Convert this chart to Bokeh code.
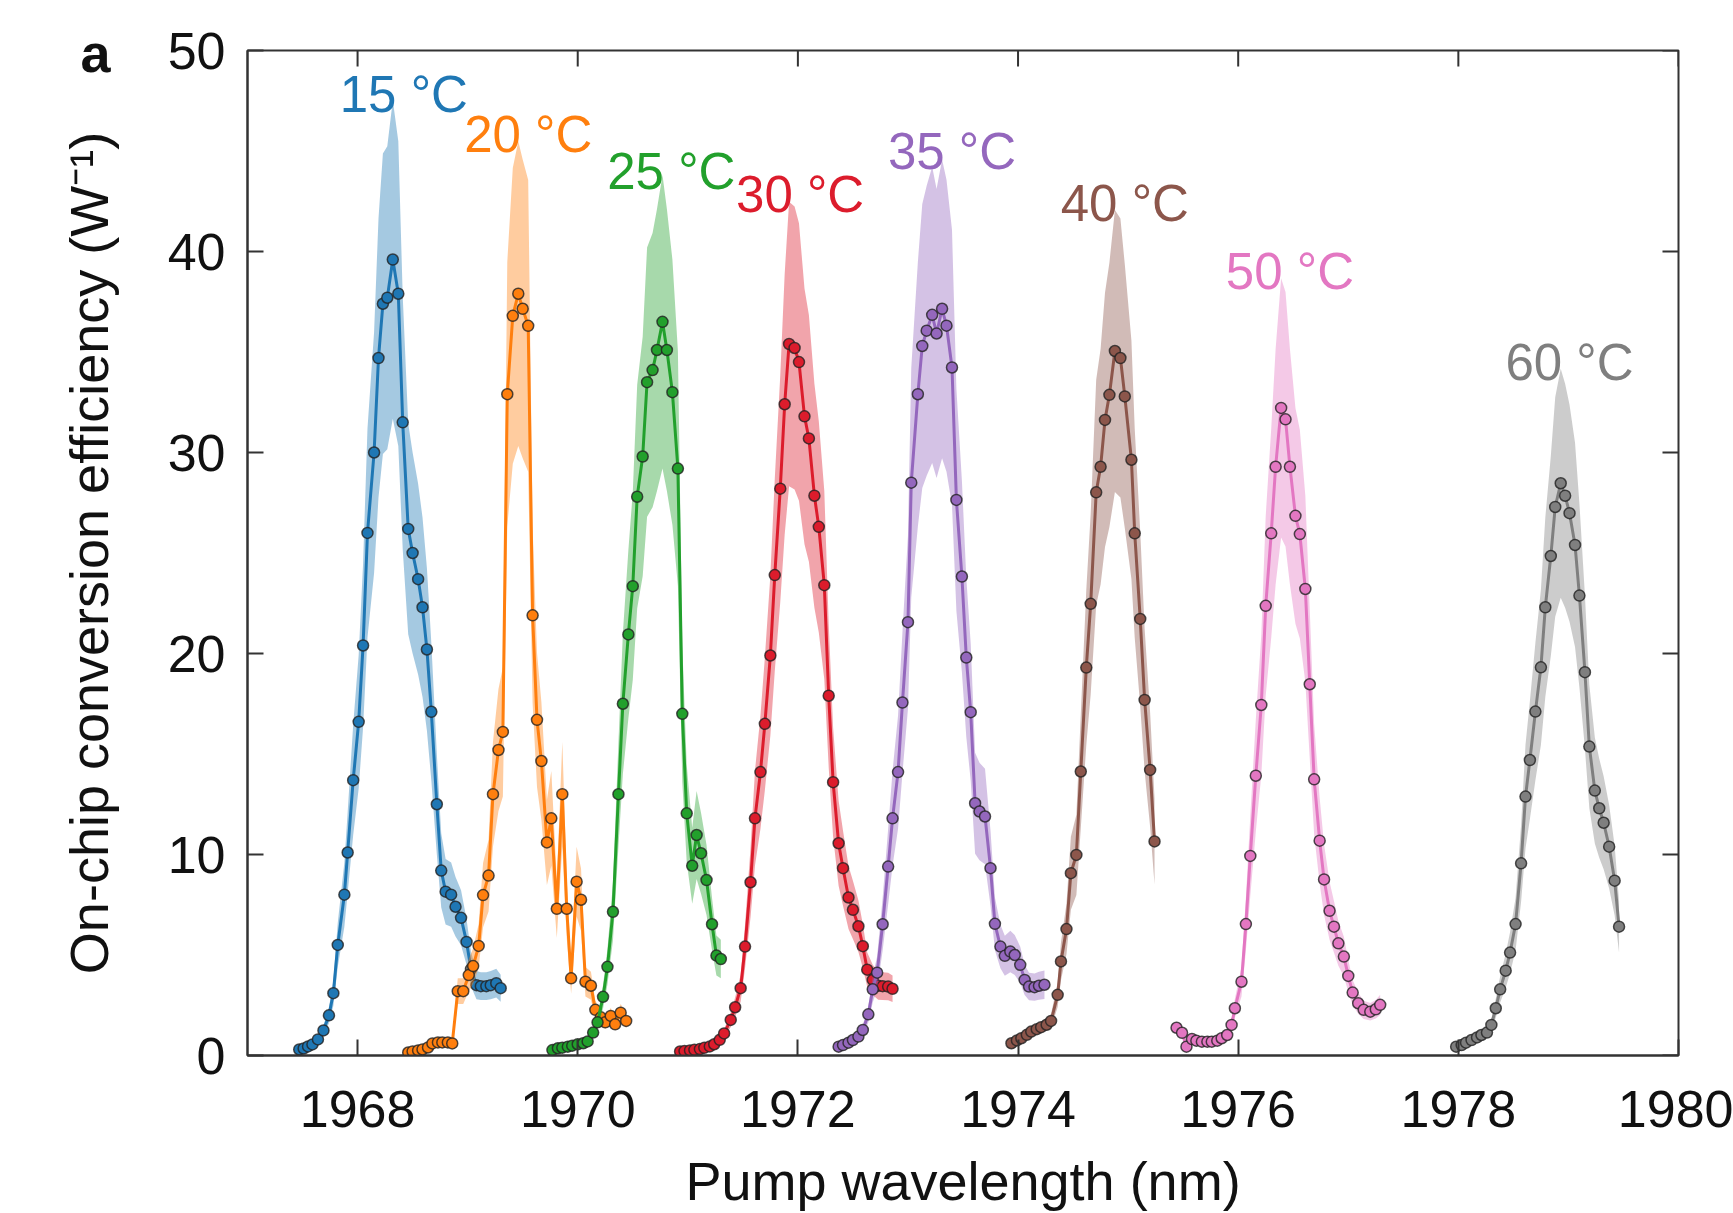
import math
from bokeh.plotting import figure
from bokeh.models import Range1d, FixedTicker, ColumnDataSource
from bokeh.embed import file_html
from bokeh.resources import INLINE
from bokeh.core.properties import value

# ---------------- data ----------------
temperatures = ["15 °C", "20 °C", "25 °C", "30 °C", "35 °C", "40 °C", "50 °C", "60 °C"]

wl_15 = [1967.47, 1967.51, 1967.55, 1967.59, 1967.64, 1967.69, 1967.74, 1967.78, 1967.82, 1967.88,
         1967.91, 1967.96, 1968.01, 1968.05, 1968.09, 1968.15, 1968.19, 1968.23, 1968.27, 1968.32,
         1968.37, 1968.41, 1968.46, 1968.50, 1968.55, 1968.59, 1968.63, 1968.67, 1968.72, 1968.76,
         1968.80, 1968.85, 1968.89, 1968.94, 1968.99, 1969.03, 1969.08, 1969.12, 1969.17, 1969.21,
         1969.26, 1969.30]
eff_15 = [0.3, 0.35, 0.45, 0.55, 0.8, 1.25, 2.0, 3.1, 5.5, 8.0,
          10.1, 13.7, 16.6, 20.4, 26.0, 30.0, 34.7, 37.4, 37.7, 39.6,
          37.9, 31.5, 26.2, 25.0, 23.7, 22.3, 20.2, 17.1, 12.5, 9.2,
          8.15, 8.0, 7.4, 6.85, 5.65, 4.3, 3.5, 3.45, 3.45, 3.5,
          3.6, 3.35]

wl_20 = [1968.46, 1968.50, 1968.55, 1968.59, 1968.64, 1968.68, 1968.73, 1968.77, 1968.82, 1968.86,
         1968.91, 1968.96, 1969.01, 1969.05, 1969.10, 1969.14, 1969.19, 1969.23, 1969.28, 1969.32,
         1969.36, 1969.41, 1969.46, 1969.50, 1969.55, 1969.59, 1969.63, 1969.67, 1969.72, 1969.76,
         1969.81, 1969.86, 1969.90, 1969.94, 1969.99, 1970.03, 1970.07, 1970.12, 1970.16, 1970.21,
         1970.25, 1970.30, 1970.34, 1970.39, 1970.44]
eff_20 = [0.15, 0.2, 0.25, 0.3, 0.4, 0.6, 0.65, 0.65, 0.65, 0.6,
          3.2, 3.2, 4.0, 4.45, 5.45, 7.98, 8.95, 13.0, 15.2, 16.1,
          32.9, 36.8, 37.9, 37.15, 36.3, 21.9, 16.7, 14.65, 10.6, 11.8,
          7.3, 13.0, 7.3, 3.84, 8.65, 7.75, 3.67, 3.47, 2.27, 1.9,
          1.65, 1.97, 1.55, 2.13, 1.72]

wl_25 = [1969.77, 1969.82, 1969.86, 1969.91, 1969.95, 1970.00, 1970.05, 1970.09, 1970.14, 1970.18,
         1970.23, 1970.27, 1970.32, 1970.37, 1970.41, 1970.46, 1970.50, 1970.54, 1970.59, 1970.63,
         1970.68, 1970.72, 1970.77, 1970.81, 1970.86, 1970.91, 1970.95, 1970.99, 1971.04, 1971.08,
         1971.12, 1971.17, 1971.22, 1971.26, 1971.30]
eff_25 = [0.27, 0.36, 0.39, 0.44, 0.49, 0.56, 0.61, 0.7, 1.14, 1.65,
          2.92, 4.41, 7.15, 13.0, 17.5, 20.95, 23.35, 27.8, 29.8, 33.5,
          34.1, 35.1, 36.5, 35.1, 33.0, 29.2, 17.0, 12.05, 9.44, 10.97,
          10.06, 8.73, 6.53, 4.97, 4.8]

wl_30 = [1970.93, 1970.97, 1971.02, 1971.06, 1971.11, 1971.15, 1971.20, 1971.24, 1971.29, 1971.33,
         1971.39, 1971.43, 1971.48, 1971.52, 1971.57, 1971.61, 1971.66, 1971.70, 1971.75, 1971.79,
         1971.84, 1971.88, 1971.92, 1971.97, 1972.01, 1972.06, 1972.10, 1972.15, 1972.19, 1972.24,
         1972.28, 1972.32, 1972.37, 1972.41, 1972.46, 1972.50, 1972.55, 1972.59, 1972.63, 1972.68,
         1972.73, 1972.77, 1972.82, 1972.86]
eff_30 = [0.2, 0.22, 0.25, 0.28, 0.32, 0.38, 0.45, 0.56, 0.78, 1.1,
          1.77, 2.4, 3.35, 5.42, 8.62, 11.8, 14.1, 16.5, 19.9, 23.9,
          28.2, 32.4, 35.4, 35.2, 34.5, 31.8, 30.7, 27.85, 26.3, 23.4,
          17.9, 13.6, 10.56, 9.32, 7.86, 7.25, 6.43, 5.44, 4.27, 3.76,
          3.47, 3.45, 3.43, 3.32]

wl_35 = [1972.37, 1972.41, 1972.46, 1972.50, 1972.55, 1972.59, 1972.64, 1972.68, 1972.72, 1972.77,
         1972.82, 1972.86, 1972.91, 1972.95, 1973.00, 1973.03, 1973.09, 1973.13, 1973.17, 1973.22,
         1973.26, 1973.31, 1973.35, 1973.40, 1973.44, 1973.49, 1973.53, 1973.57, 1973.61, 1973.65,
         1973.70, 1973.75, 1973.79, 1973.84, 1973.88, 1973.93, 1973.97, 1974.02, 1974.06, 1974.10,
         1974.15, 1974.19, 1974.24]
eff_35 = [0.44, 0.52, 0.64, 0.77, 0.94, 1.27, 2.05, 3.29, 4.12, 6.53,
          9.4, 11.8, 14.1, 17.56, 21.56, 28.5, 32.9, 35.3, 36.06, 36.85,
          35.92, 37.15, 36.31, 34.23, 27.64, 23.83, 19.8, 17.08, 12.55, 12.14,
          11.89, 9.32, 6.55, 5.42, 4.96, 5.17, 5.0, 4.51, 3.76, 3.43,
          3.4, 3.47, 3.52]

wl_40 = [1973.94, 1973.99, 1974.03, 1974.08, 1974.12, 1974.17, 1974.21, 1974.26, 1974.30, 1974.36,
         1974.39, 1974.44, 1974.48, 1974.53, 1974.57, 1974.62, 1974.66, 1974.71, 1974.75, 1974.79,
         1974.83, 1974.88, 1974.93, 1974.97, 1975.03, 1975.06, 1975.11, 1975.15, 1975.20, 1975.24]
eff_40 = [0.61, 0.75, 0.86, 1.03, 1.19, 1.31, 1.41, 1.53, 1.72, 3.02,
          4.68, 6.29, 9.07, 9.98, 14.13, 19.3, 22.47, 28.02, 29.29, 31.62,
          32.87, 35.05, 34.7, 32.79, 29.64, 25.98, 21.72, 17.69, 14.21, 10.65]

wl_50 = [1975.44, 1975.49, 1975.53, 1975.58, 1975.62, 1975.67, 1975.72, 1975.76, 1975.81, 1975.85,
         1975.90, 1975.94, 1975.97, 1976.03, 1976.07, 1976.11, 1976.16, 1976.21, 1976.25, 1976.30,
         1976.34, 1976.39, 1976.43, 1976.47, 1976.52, 1976.56, 1976.61, 1976.65, 1976.69, 1976.74,
         1976.78, 1976.83, 1976.87, 1976.91, 1976.96, 1977.00, 1977.04, 1977.09, 1977.14, 1977.20,
         1977.25, 1977.29]
eff_50 = [1.38, 1.13, 0.44, 0.82, 0.74, 0.69, 0.69, 0.69, 0.74, 0.86,
          1.02, 1.52, 2.35, 3.67, 6.54, 9.93, 13.92, 17.44, 22.37, 25.98,
          29.29, 32.22, 31.65, 29.29, 26.85, 25.94, 23.21, 18.47, 13.74, 10.69,
          8.76, 7.2, 6.41, 5.58, 4.92, 3.96, 3.13, 2.6, 2.27, 2.18,
          2.3, 2.52]

wl_60 = [1977.98, 1978.03, 1978.07, 1978.12, 1978.17, 1978.21, 1978.26, 1978.30, 1978.34, 1978.38,
         1978.43, 1978.47, 1978.52, 1978.57, 1978.61, 1978.65, 1978.70, 1978.75, 1978.79, 1978.84,
         1978.88, 1978.93, 1978.97, 1979.01, 1979.06, 1979.10, 1979.15, 1979.19, 1979.24, 1979.28,
         1979.32, 1979.37, 1979.42, 1979.46]
eff_60 = [0.44, 0.52, 0.64, 0.77, 0.9, 1.02, 1.14, 1.52, 2.35, 3.29,
          4.22, 5.12, 6.54, 9.56, 12.88, 14.7, 17.11, 19.31, 22.3, 24.85,
          27.29, 28.47, 27.85, 26.98, 25.4, 22.88, 19.07, 15.37, 13.18, 12.3,
          11.58, 10.39, 8.7, 6.41]

# relative uncertainty of the shaded band
rel_uncertainty = 0.20

# label anchor positions (text placement)
label_x = [1968.42, 1969.55, 1970.85, 1972.02, 1973.40, 1974.97, 1976.47, 1979.01]
label_y = [47.8, 45.8, 44.0, 42.85, 45.0, 42.4, 39.0, 34.5]

x_ticks = [1968, 1970, 1972, 1974, 1976, 1978, 1980]
y_ticks = [0, 10, 20, 30, 40, 50]
x_min, x_max = 1967, 1980
y_min, y_max = 0, 50

colors = ["#1f77b4", "#ff7f0e", "#22a02c", "#dc1c2c", "#9467bd", "#8c564b", "#e377c2", "#7f7f7f"]

series = [(wl_15, eff_15), (wl_20, eff_20), (wl_25, eff_25), (wl_30, eff_30),
          (wl_35, eff_35), (wl_40, eff_40), (wl_50, eff_50), (wl_60, eff_60)]

FONT = "Liberation Sans"
AXIS_COL = "#333333"

p = figure(width=1733, height=1213, output_backend="svg", toolbar_location=None,
           x_range=Range1d(x_min, x_max), y_range=Range1d(y_min, y_max),
           min_border_left=247, min_border_right=55, min_border_top=50, min_border_bottom=158)
p.xgrid.visible = False
p.ygrid.visible = False
p.outline_line_color = AXIS_COL
p.outline_line_width = 2
p.background_fill_color = "white"
p.border_fill_color = "white"

# panel letter "a" drawn as the (left-aligned) title, pulled down beside the "50" tick label
p.title.text = "a"
p.title.align = "left"
p.title.vertical_align = "bottom"
p.title.offset = -167
p.title.standoff = -64
p.title.text_font = FONT
p.title.text_font_size = "54px"
p.title.text_font_style = "bold"
p.title.text_color = "#111111"

for (wl, eff), col in zip(series, colors):
    src = ColumnDataSource(dict(
        x=wl, y=eff,
        lo=[v * (1 - rel_uncertainty) for v in eff],
        hi=[v * (1 + rel_uncertainty) for v in eff]))
    p.varea(x="x", y1="lo", y2="hi", source=src, fill_color=col, fill_alpha=0.4)
    p.line(x="x", y="y", source=src, line_color=col, line_width=3)
    p.scatter(x="x", y="y", source=src, size=11, marker="circle",
              fill_color=col, line_color="#222222", line_alpha=0.8, line_width=1.5)

lab_src = ColumnDataSource(dict(x=label_x, y=label_y, text=temperatures, color=colors))
p.text(x="x", y="y", text="text", source=lab_src, text_color="color",
       text_font=value(FONT), text_font_size="51px", text_align="center",
       text_baseline="alphabetic")

# mirrored inward ticks on the top and right edges of the box
p.scatter(x=x_ticks, y=[y_max] * len(x_ticks), marker="dash", size=32, angle=math.pi / 2,
          line_color=AXIS_COL, line_width=2)
p.scatter(x=[x_max] * len(y_ticks), y=y_ticks, marker="dash", size=32,
          line_color=AXIS_COL, line_width=2)


def style_axis(ax, ticks):
    ax.ticker = FixedTicker(ticks=ticks)
    ax.major_tick_in = 16
    ax.major_tick_out = 0
    ax.minor_tick_line_color = None
    ax.axis_line_color = AXIS_COL
    ax.axis_line_width = 2
    ax.major_tick_line_color = AXIS_COL
    ax.major_tick_line_width = 2
    ax.major_label_text_font = FONT
    ax.major_label_text_font_size = "52px"
    ax.major_label_text_color = "#111111"
    ax.axis_label_text_font = FONT
    ax.axis_label_text_font_size = "54px"
    ax.axis_label_text_font_style = "normal"
    ax.axis_label_text_color = "#111111"


xa = p.xaxis[0]
ya = p.yaxis[0]
style_axis(xa, x_ticks)
style_axis(ya, y_ticks)
xa.major_label_standoff = 35
ya.major_label_standoff = 22
xa.axis_label = "Pump wavelength (nm)"
ya.axis_label = "On-chip conversion efficiency (W⁻¹)"
xa.axis_label_standoff = 21
ya.axis_label_standoff = 46

open("out.html", "w").write(file_html(p, INLINE))
